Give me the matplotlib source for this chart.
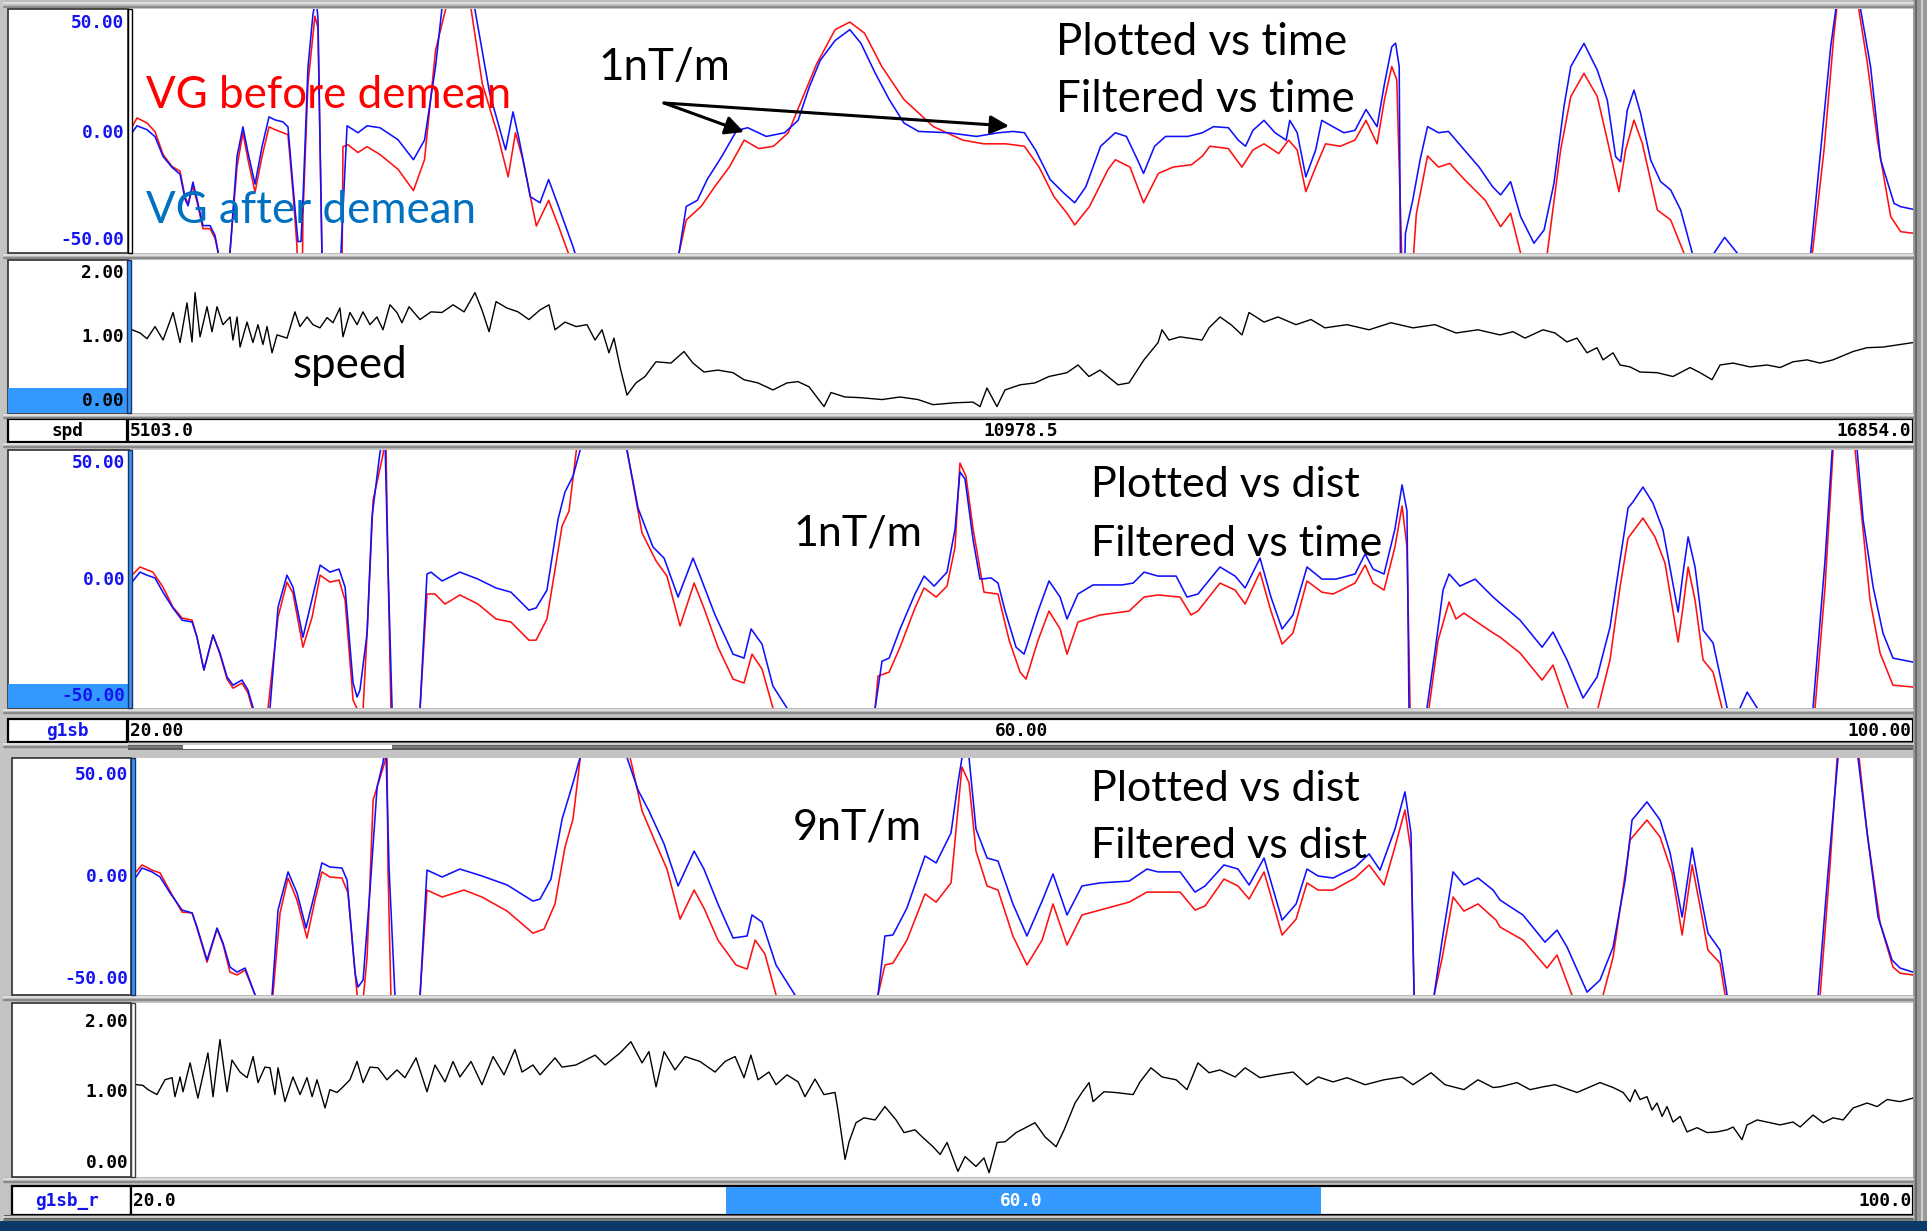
import matplotlib
matplotlib.use("Agg")
import matplotlib.pyplot as plt
from matplotlib.patches import Rectangle, FancyArrowPatch

# ---------------- data ----------------
time_ticks = ["5103.0", "10978.5", "16854.0"]
dist_ticks_a = ["20.00", "60.00", "100.00"]
dist_ticks_b = ["20.0", "60.0", "100.0"]
vg_labels = ["50.00", "0.00", "-50.00"]
spd_labels = ["2.00", "1.00", "0.00"]
channel_names = ["spd", "g1sb", "g1sb_r"]

# Panel 1 : VG vs time (1 nT/m filter)
p1_blue_t = [5103, 5136, 5202, 5255, 5308, 5367, 5420, 5453, 5473, 5505, 5532, 5571, 5618, 5651, 5670, 5685, 5740,
             5750, 5796, 5835, 5868, 5915, 5961, 6007, 6047, 6099, 6132, 6165, 6198, 6218, 6231, 6264, 6297, 6317,
             6330, 6356, 6365, 6470, 6482, 6522, 6594, 6654, 6739, 6858, 6960, 7033, 7106, 7147, 7195, 7317, 7366,
             7463, 7536, 7568, 7617, 7658, 7731, 7795, 7852, 7917, 8014, 8047, 8080, 8680, 8712, 8760, 8833, 8898,
             8996, 9093, 9166, 9288, 9409, 9498, 9571, 9644, 9742, 9839, 9912, 10009, 10099, 10196, 10293, 10488,
             10675, 10820, 10918, 10991, 11064, 11161, 11250, 11323, 11396, 11494, 11591, 11664, 11737, 11777,
             11850, 11923, 12069, 12166, 12239, 12337, 12402, 12450, 12499, 12572, 12645, 12718, 12742, 12791,
             12848, 12913, 12953, 13026, 13099, 13172, 13245, 13318, 13367, 13415, 13440, 13464, 13472, 13478,
             13498, 13505, 13553, 13602, 13651, 13724, 13789, 13894, 13991, 14081, 14133, 14199, 14265, 14353,
             14420, 14485, 14551, 14596, 14683, 14771, 14837, 14892, 14925, 14969, 15013, 15057, 15123, 15189,
             15255, 15321, 15398, 15409, 15530, 15541, 15611, 15695, 15706, 16168, 16179, 16245, 16311, 16344,
             16355, 16498, 16509, 16574, 16641, 16729, 16773, 16854]
p1_blue_v = [0.0, 3.2, 1.4, -1.8, -10.9, -15.9, -19.1, -30.5, -33.6, -22.7, -30.5, -42.7, -42.7, -47.3, -54.5, -70, -70,
             -54.5, -10.9, 2.7, -9.1, -23.6, -6.4, 7.3, 5.9, 5.0, 2.7, -24.5, -50.0, -50.0, -30.5, 30.0, 54.5, 62,
             52.7, -54.5, -70, -70, -54.5, 3.2, 0.0, 3.2, 2.3, -3.2, -12.4, -3.4, 30.5, 56.5, 72, 72, 56.5,
             18.1, 0.0, -7.9, 9.6, -3.4, -29.4, -32.2, -21.5, -33.9, -52.6, -60.5, -70, -70, -55.4, -33.9, -31.1, -21.5,
             -10.7, 1.1, 2.3, -1.7, 0.0, 5.7, 20.9, 33.3, 42.4, 47.4, 41.2, 27.1, 15.3, 4.5, 0.6, 0.0,
             -1.7, 0.0, 0.6, 0.0, -7.9, -21.5, -27.7, -32.2, -24.9, -6.2, 0.0, -1.7, -12.4, -18.7,
             -6.2, -1.7, -1.7, 0.0, 2.8, 2.3, -3.4, -6.2, 1.1, 5.7, 0.0, -3.4, 5.7, 0.0,
             -20.3, -7.9, 5.7, 2.8, 0.0, 1.1, 10.7, 2.8, 22.6, 39.5, 41.2, 30.5, -55.4, -70,
             -70, -46.3, -31.1, -12.4, 2.8, 0.0, 0.6, -7.9, -15.8, -24.9, -28.6, -22.5, -38.6, -50.8,
             -44.7, -23.3, 12.0, 30.4, 41.1, 28.8, 15.0, -11.0, -13.3, 10.4, 19.6, 8.9, -12.5, -22.5,
             -26.3, -35.5, -55.4, -70, -70, -55.4, -48.1, -55.4, -70, -70, -55.4, -7.9, 39.6, 56.4,
             72, 72, 56.4, 30.4, -12.5, -32.5, -34.0, -35.2]

p1_red_t = [5103, 5136, 5202, 5255, 5308, 5367, 5420, 5453, 5473, 5505, 5532, 5571, 5618, 5651, 5670, 5685, 5740,
            5750, 5796, 5835, 5868, 5915, 5961, 6007, 6047, 6099, 6132, 6165, 6191, 6196, 6226, 6231, 6264, 6310,
            6330, 6356, 6365, 6488, 6495, 6528, 6594, 6654, 6739, 6858, 6960, 7033, 7106, 7171, 7203, 7309, 7341,
            7414, 7512, 7585, 7633, 7682, 7771, 7852, 7917, 7982, 8006, 8680, 8712, 8760, 8858, 8947, 9044, 9142,
            9239, 9336, 9433, 9523, 9620, 9742, 9839, 9936, 10050, 10196, 10391, 10585, 10723, 10869, 10991,
            11088, 11186, 11275, 11323, 11421, 11542, 11591, 11688, 11777, 11875, 11972, 12094, 12166, 12215,
            12337, 12426, 12499, 12572, 12669, 12734, 12791, 12848, 12913, 12978, 13075, 13172, 13245, 13318,
            13367, 13415, 13448, 13480, 13486, 13545, 13577, 13651, 13724, 13797, 13894, 14032, 14133, 14199,
            14265, 14272, 14435, 14441, 14529, 14596, 14683, 14771, 14837, 14914, 14958, 15013, 15068, 15167,
            15255, 15343, 15350, 16184, 16190, 16267, 16333, 16350, 16359, 16489, 16497, 16553, 16619, 16707,
            16773, 16854]
p1_red_v = [2.7, 6.8, 4.5, 0.5, -10.0, -15.5, -17.7, -29.5, -32.7, -24.5, -31.8, -44.1, -44.1, -48.6, -54.5, -70, -70,
            -54.5, -15.5, 0.0, -12.3, -27.3, -10.9, 2.7, 1.4, 0.0, -0.9, -27.3, -51.8, -70, -70, -38.2, 22.7, 53.6,
            48.2, -54.5, -70, -70, -6.4, -5.5, -9.1, -6.4, -10.0, -16.8, -26.6, -12.4, 37.9, 56.5, 72, 72, 56.5,
            22.6, 0.0, -20.3, 0.0, -12.4, -42.9, -31.1, -42.9, -55.4, -70, -70, -55.4, -40.1, -33.9, -24.9, -15.8, -3.4,
            -7.3, -6.2, 0.0, 15.3, 31.6, 47.4, 50.9, 45.8, 30.5, 15.3, 2.8, -3.4, -5.1, -5.1, -6.2,
            -15.8, -29.4, -37.3, -42.4, -33.9, -17.0, -12.4, -15.8, -32.2, -18.7, -15.8, -14.7, -10.7, -6.2,
            -7.3, -15.8, -7.9, -5.1, -9.6, -3.4, -7.9, -27.1, -15.8, -5.1, -6.2, -3.4, 5.7, -5.1,
            15.3, 30.5, 24.3, -55.4, -70, -70, -37.3, -10.7, -15.8, -14.1, -21.5, -31.1, -43.2, -37.0,
            -55.4, -70, -70, -55.4, -7.9, 16.6, 27.3, 16.6, -3.3, -27.1, -7.9, 5.8, -4.9, -35.5,
            -40.1, -55.4, -70, -70, -55.4, -7.9, 45.7, 56.4, 72, 72, 56.4, 31.9, -3.3, -38.6,
            -45.5, -46.2]

# Panel 2 : speed vs time
p2_t = [5103, 5156, 5202, 5255, 5308, 5374, 5420, 5466, 5499, 5519, 5552, 5598, 5631, 5664, 5703, 5750, 5769, 5796,
        5816, 5862, 5901, 5934, 5967, 5994, 6027, 6060, 6126, 6178, 6211, 6258, 6297, 6343, 6390, 6429, 6475, 6495,
        6541, 6588, 6627, 6673, 6719, 6759, 6805, 6851, 6884, 6931, 7003, 7076, 7148, 7221, 7294, 7366, 7412, 7459,
        7505, 7577, 7650, 7722, 7795, 7854, 7894, 7960, 8033, 8105, 8158, 8204, 8250, 8283, 8323, 8369, 8428, 8488,
        8560, 8659, 8745, 8804, 8877, 8969, 9068, 9141, 9233, 9332, 9425, 9497, 9570, 9669, 9715, 9807, 9906,
        10052, 10170, 10289, 10388, 10533, 10652, 10698, 10744, 10810, 10863, 10962, 11061, 11153, 11272, 11345,
        11417, 11490, 11609, 11681, 11780, 11873, 11899, 11945, 12018, 12163, 12209, 12282, 12354, 12427, 12473,
        12572, 12664, 12783, 12882, 12974, 13120, 13265, 13410, 13555, 13700, 13839, 13984, 14129, 14215, 14294,
        14413, 14492, 14571, 14637, 14703, 14769, 14809, 14875, 14921, 14987, 15053, 15165, 15270, 15383, 15449,
        15528, 15581, 15667, 15779, 15891, 15977, 16063, 16155, 16240, 16326, 16458, 16550, 16656, 16768, 16854]
p2_v = [1.11, 1.06, 0.97, 1.16, 0.95, 1.38, 0.91, 1.53, 0.92, 1.69, 1.00, 1.47, 1.08, 1.47, 1.19, 1.31, 0.95, 1.31,
        0.84, 1.23, 0.91, 1.19, 0.88, 1.16, 0.75, 1.03, 0.98, 1.39, 1.16, 1.31, 1.19, 1.14, 1.30, 1.22, 1.45, 1.00,
        1.38, 1.19, 1.39, 1.19, 1.31, 1.11, 1.50, 1.38, 1.22, 1.47, 1.27, 1.39, 1.38, 1.50, 1.39, 1.69, 1.42, 1.08,
        1.55, 1.45, 1.39, 1.27, 1.42, 1.50, 1.11, 1.23, 1.16, 1.19, 0.95, 1.11, 0.75, 0.98, 0.53, 0.09, 0.28, 0.38,
        0.61, 0.59, 0.77, 0.59, 0.45, 0.48, 0.44, 0.33, 0.28, 0.17, 0.28, 0.30, 0.22, -0.09, 0.13, 0.06, 0.05,
        0.02, 0.06, 0.02, -0.06, -0.03, -0.02, -0.09, 0.20, -0.09, 0.17, 0.25, 0.28, 0.38, 0.44, 0.56,
        0.38, 0.48, 0.25, 0.28, 0.64, 0.91, 1.11, 0.95, 1.00, 0.95, 1.14, 1.31, 1.19, 1.03, 1.38,
        1.23, 1.31, 1.19, 1.27, 1.14, 1.19, 1.11, 1.22, 1.14, 1.19, 1.06, 1.11, 1.03, 1.08, 0.98,
        1.11, 1.06, 0.92, 0.98, 0.75, 0.83, 0.64, 0.75, 0.56, 0.53, 0.45, 0.44, 0.38, 0.52, 0.44,
        0.33, 0.56, 0.59, 0.53, 0.56, 0.52, 0.61, 0.64, 0.59, 0.64, 0.77, 0.83, 0.84, 0.88, 0.91]

# Panel 3 : VG vs distance (filtered vs time)
p3_blue_d = [20.0, 20.36, 20.67, 21.03, 21.39, 21.84, 22.25, 22.70, 22.92, 23.23, 23.64, 23.95, 24.27, 24.54, 24.94,
             25.21, 25.44, 25.55, 26.05, 26.20, 26.56, 26.96, 27.23, 27.68, 28.00, 28.45, 28.89, 29.30, 29.57, 29.93,
             30.11, 30.24, 30.56, 30.78, 31.14, 31.36, 31.50, 31.68, 31.75, 32.85, 32.94, 33.25, 33.43, 33.93, 34.73,
             35.54, 36.35, 37.02, 37.83, 38.15, 38.64, 39.14, 39.45, 39.81, 40.12, 40.30, 42.00, 42.24, 42.73, 43.40,
             43.90, 44.53, 45.20, 45.52, 46.19, 47.00, 47.49, 47.81, 48.30, 48.79, 49.42, 49.55, 53.25, 53.38, 53.69,
             54.01, 54.50, 55.17, 55.58, 56.03, 56.61, 56.97, 57.19, 57.42, 57.78, 58.09, 58.59, 58.90, 59.22, 59.71,
             60.07, 60.70, 61.19, 61.69, 62.00, 62.49, 63.17, 64.47, 64.97, 65.46, 66.09, 66.90, 67.39, 67.88, 68.87,
             69.55, 70.00, 70.67, 71.16, 71.66, 72.15, 72.78, 73.45, 74.08, 74.94, 75.39, 75.75, 76.24, 76.73, 77.05,
             77.27, 77.36, 77.45, 78.10, 78.17, 78.53, 78.89, 79.16, 79.65, 80.33, 81.14, 81.45, 82.35, 83.34, 83.83,
             84.46, 85.18, 85.81, 86.39, 86.84, 87.20, 87.42, 87.87, 88.32, 88.77, 89.45, 89.67, 89.90, 90.21, 90.57,
             91.02, 91.65, 91.75, 92.10, 92.23, 92.55, 93.00, 93.10, 95.40, 95.51, 96.05, 96.37, 96.50, 97.35, 97.49,
             97.76, 98.21, 98.65, 99.10, 100.0]
p3_blue_v = [-0.9, 3.4, 2.1, 0.9, -5.2, -12.0, -17.2, -18.0, -24.5, -38.6, -23.6, -31.3, -41.6, -45.1, -42.9,
             -47.2, -54.9, -70, -70, -54.9, -11.6, 2.1, -3.0, -24.5, -11.6, 6.4, 3.4, 4.7, -3.0, -44.2,
             -50.2, -47.2, -22.7, 27.0, 54.9, 62, 5.6, -54.5, -70, -70, -54.9, 2.6, 3.4, -0.4, 3.4,
             0.4, -3.4, -5.2, -12.9, -12.0, -4.3, 26.2, 37.8, 44.6, 55.4, 65, 65, 55.4, 30.9, 14.2,
             9.4, -7.3, 9.4, 1.7, -15.0, -31.8, -33.5, -21.0, -27.5, -45.5, -54.9, -70, -70, -54.9, -34.8,
             -33.5, -21.0, -6.0, 1.7, -2.6, 3.4, 21.9, 46.4, 43.3, 17.2, 0.4, 0.9, -1.3, -13.3, -28.8,
             -31.8, -13.3, -0.4, -7.3, -16.7, -6.0, -2.1, -2.1, -1.3, 3.4, 1.7, 1.7, -7.3, -6.0, 5.6,
             1.7, -3.4, 9.4, -7.3, -21.0, -15.0, 5.6, 0.4, 0.4, 2.6, 11.2, 4.7, 2.6, 21.9, 40.8,
             29.6, -54.9, -70, -70, -54.9, -30.5, -4.3, 2.6, -2.6, 0.4, -7.3, -9.9, -17.2, -28.8, -22.3,
             -34.3, -50.6, -41.6, -20.2, 8.6, 30.9, 33.5, 39.9, 33.0, 21.5, -13.7, 3.0, 18.5, 5.6, -21.5,
             -27.0, -54.9, -70, -70, -54.9, -48.1, -54.9, -70, -70, -54.9, 8.6, 55.8, 65, 65, 55.8,
             25.8, -3.0, -22.7, -33.5, -35.2]

p3_red_d = [20.0, 20.36, 20.94, 21.39, 21.84, 22.25, 22.70, 22.92, 23.23, 23.64, 23.95, 24.27, 24.54, 24.94, 25.21,
            25.40, 25.50, 26.00, 26.11, 26.56, 26.96, 27.23, 27.68, 28.09, 28.45, 28.89, 29.30, 29.57, 29.93, 30.15,
            30.20, 30.30, 30.56, 30.83, 31.27, 31.40, 31.50, 31.63, 31.70, 32.85, 32.94, 33.25, 33.61, 34.06, 34.73,
            35.54, 36.35, 37.02, 37.83, 38.15, 38.64, 39.32, 39.63, 39.94, 40.10, 42.10, 42.24, 42.91, 43.54, 44.03,
            44.62, 45.25, 45.69, 46.32, 47.00, 47.49, 47.85, 48.30, 48.79, 48.90, 53.30, 53.38, 53.51, 54.01, 54.50,
            55.17, 55.58, 56.12, 56.61, 56.97, 57.19, 57.46, 57.78, 58.27, 58.90, 59.40, 59.89, 60.16, 60.70, 61.19,
            61.69, 62.00, 62.49, 63.48, 64.79, 65.46, 66.09, 67.08, 67.57, 67.88, 68.87, 69.55, 70.00, 70.67, 71.16,
            71.66, 72.15, 72.78, 73.45, 73.95, 74.94, 75.39, 75.75, 76.24, 76.73, 77.05, 77.27, 77.41, 77.50, 78.20,
            78.26, 78.67, 79.16, 79.47, 79.83, 81.14, 81.45, 82.35, 83.34, 83.83, 84.50, 84.60, 85.75, 85.85, 86.39,
            86.84, 87.20, 87.87, 88.41, 88.86, 89.45, 89.67, 89.90, 90.21, 90.57, 91.02, 91.42, 91.50, 95.50, 95.60,
            96.05, 96.41, 96.50, 97.30, 97.40, 97.71, 98.07, 98.52, 99.10, 100.0]
p3_red_v = [2.1, 5.6, 3.4, -3.0, -11.6, -16.3, -17.2, -24.5, -38.6, -23.6, -31.8, -42.5, -46.4, -44.2, -48.5,
            -54.9, -70, -70, -54.9, -15.9, -0.9, -5.6, -28.8, -15.9, 2.1, -0.9, 0.0, -8.6, -51.5, -56,
            -70, -70, -22.7, 34.3, 53.6, 62, 5.6, -54.9, -70, -70, -54.9, -6.0, -6.0, -10.3, -6.4,
            -10.3, -16.7, -18.0, -25.8, -25.8, -16.7, 23.2, 29.6, 54.1, 65, 65, 55.4, 20.2, 8.2, 1.7,
            -19.7, -1.3, -12.0, -28.8, -42.5, -44.2, -31.8, -38.2, -54.9, -70, -70, -54.9, -41.2, -39.5, -28.8,
            -12.0, -3.4, -7.3, -2.6, 14.2, 50.2, 44.6, 21.9, -5.2, -6.0, -25.8, -39.5, -42.5, -25.8, -13.3,
            -21.0, -31.8, -18.0, -15.0, -13.3, -7.3, -6.4, -7.3, -15.0, -13.3, -1.3, -4.3, -10.3, 3.4, -13.3,
            -27.5, -22.7, -0.4, -5.2, -6.0, -1.3, 6.4, -1.3, -4.3, 14.2, 31.8, 14.2, -54.9, -70, -70,
            -54.9, -25.8, -9.4, -16.7, -14.2, -22.7, -24.5, -31.3, -42.9, -36.5, -54.9, -70, -70, -54.9, -34.3,
            -3.0, 18.0, 26.6, 18.5, 7.3, -26.6, -11.6, 5.6, -8.6, -34.3, -39.5, -54.9, -70, -70, -54.9,
            -3.0, 55.8, 65, 65, 55.8, 25.8, -8.6, -31.3, -45.1, -45.9]

# Panel 4 : VG vs distance (filtered vs distance, 9 nT/m)
p4_blue_d = [20.0, 20.18, 20.45, 20.90, 21.26, 21.71, 22.25, 22.70, 22.92, 23.37, 23.82, 24.09, 24.40, 24.72, 25.08,
             25.53, 25.60, 26.20, 26.29, 26.56, 27.01, 27.41, 27.82, 28.22, 28.53, 28.89, 29.43, 29.66, 30.02, 30.15,
             30.38, 30.69, 31.01, 31.27, 31.40, 31.55, 31.81, 31.90, 32.85, 32.94, 33.25, 33.93, 34.73, 35.72, 36.85,
             38.01, 38.33, 38.82, 39.32, 39.81, 40.12, 40.30, 42.00, 42.24, 42.73, 43.22, 43.90, 44.53, 45.25, 45.69,
             46.32, 47.00, 47.63, 47.85, 48.30, 48.93, 49.78, 49.90, 53.40, 53.51, 53.82, 54.18, 54.81, 55.62, 56.12,
             56.79, 57.10, 57.28, 57.40, 57.50, 57.60, 57.91, 58.41, 58.90, 59.57, 60.20, 60.88, 61.37, 62.00, 62.67,
             63.48, 64.79, 65.59, 66.09, 67.08, 67.75, 68.20, 69.05, 69.68, 70.18, 70.85, 71.66, 72.29, 72.78, 73.28,
             73.95, 74.94, 75.57, 76.06, 76.73, 77.18, 77.45, 77.59, 77.70, 78.40, 78.49, 78.85, 79.34, 79.83, 80.46,
             81.14, 81.45, 82.48, 83.47, 84.01, 84.46, 85.36, 85.94, 86.53, 87.07, 87.38, 88.05, 88.64, 89.09, 89.63,
             90.08, 90.44, 90.79, 91.33, 91.65, 91.75, 95.60, 95.74, 96.18, 96.63, 96.75, 97.40, 97.53, 97.94, 98.43,
             99.06, 99.42, 100.0]
p4_blue_v = [0.0, 0.0, 4.4, 2.5, 0.0, -7.8, -16.2, -17.6, -24.5, -40.7, -25.0, -32.4, -44.1, -46.6, -44.6,
             -57.8, -70, -70, -57.8, -16.2, 2.5, -7.8, -25.0, -7.4, 6.9, 4.9, 4.4, -1.5, -47.1, -53.9,
             -50.5, -6.4, 44.1, 55.9, 65, 3.4, -57.8, -70, -70, -57.8, 3.4, 0.0, 3.9, 0.5, -3.9,
             -11.8, -10.8, -1.0, 28.4, 46.1, 58.3, 65, 65, 58.3, 42.6, 32.4, 16.2, -4.4, 12.7, 3.9,
             -13.2, -29.9, -28.9, -18.6, -22.1, -43.1, -57.8, -70, -70, -57.8, -28.9, -28.4, -15.2, 10.3, 6.9,
             21.6, 46.1, 58.3, 65, 65, 58.3, 23.5, 9.3, 7.8, -13.2, -28.9, -11.8, 1.5, -18.6, -4.4,
             -2.9, -2.0, 3.9, 2.5, 2.5, -7.4, -4.4, 5.9, 3.9, -3.9, 9.3, -21.1, -13.2, 3.9, 0.5,
             -0.5, 4.9, 11.3, 3.4, 23.5, 41.7, 21.6, -57.8, -70, -70, -57.8, -30.9, 2.5, -3.9, -0.5,
             -6.4, -11.3, -18.6, -31.9, -26.0, -34.3, -56.4, -50.5, -34.3, -1.5, 27.9, 36.8, 27.9, 11.8, -19.6,
             14.2, -7.8, -27.5, -35.8, -57.8, -70, -70, -57.8, 2.0, 58.3, 65, 65, 58.3, 21.6, -19.6,
             -40.7, -44.6, -46.6]

p4_red_d = [20.0, 20.18, 20.45, 20.90, 21.26, 21.71, 22.25, 22.70, 22.92, 23.37, 23.82, 24.09, 24.40, 24.72, 25.08,
            25.53, 25.60, 26.25, 26.33, 26.65, 27.01, 27.41, 27.86, 28.22, 28.53, 28.89, 29.43, 29.70, 30.11, 30.20,
            30.30, 30.56, 30.83, 31.36, 31.45, 31.50, 31.63, 31.70, 32.85, 32.94, 33.25, 33.93, 34.91, 35.72, 36.85,
            38.01, 38.51, 39.00, 39.45, 39.81, 40.12, 40.20, 42.20, 42.41, 42.91, 43.54, 44.03, 44.62, 45.25, 45.69,
            46.32, 47.13, 47.63, 47.99, 48.43, 48.93, 49.00, 53.40, 53.51, 53.82, 54.18, 54.81, 55.62, 56.12, 56.79,
            57.28, 57.60, 57.91, 58.41, 58.90, 59.57, 60.20, 60.88, 61.37, 62.00, 62.67, 63.48, 64.79, 65.59, 67.08,
            67.75, 68.20, 69.05, 69.68, 70.18, 70.85, 71.66, 72.29, 72.78, 73.28, 73.95, 74.94, 75.57, 76.24, 76.73,
            77.18, 77.45, 77.59, 77.70, 78.40, 78.49, 78.85, 79.34, 79.83, 80.46, 81.27, 81.45, 82.48, 83.56, 84.01,
            84.68, 84.80, 86.00, 86.08, 86.53, 87.29, 88.05, 88.64, 89.18, 89.63, 90.08, 90.44, 90.79, 91.33, 91.56,
            91.65, 95.70, 95.83, 96.27, 96.59, 96.70, 97.45, 97.58, 97.94, 98.52, 99.10, 99.42, 100.0]
p4_red_v = [2.5, 2.5, 5.9, 3.4, 2.0, -7.0, -17.2, -17.6, -25.0, -41.7, -25.5, -33.0, -46.6, -48.0, -45.6,
            -57.8, -70, -70, -57.8, -17.6, -0.5, -11.3, -29.9, -11.3, 2.5, 0.0, -0.5, -7.8, -57.8, -70,
            -70, -39.2, 37.7, 56.4, 65, 3.4, -57.8, -70, -70, -57.8, -6.4, -9.8, -6.4, -9.8, -16.7,
            -27.5, -25.5, -13.2, 14.7, 28.4, 56.9, 65, 65, 56.9, 32.4, 16.2, 3.9, -20.6, -6.4, -15.2,
            -30.9, -43.1, -45.1, -30.9, -37.7, -57.8, -70, -70, -57.8, -43.1, -42.2, -30.9, -8.3, -12.3, -2.9,
            53.9, 46.1, 12.7, -4.4, -6.4, -28.9, -43.1, -30.9, -13.2, -33.3, -18.6, -16.2, -12.3, -7.4, -7.4,
            -16.2, -14.2, -1.0, -4.4, -10.8, 2.5, -28.4, -20.6, -2.9, -6.4, -6.4, -0.5, 5.9, -3.9, 14.7,
            32.8, 12.7, -57.8, -70, -70, -57.8, -39.7, -9.8, -16.7, -13.2, -21.1, -24.5, -30.9, -44.6, -38.2,
            -57.8, -70, -70, -57.8, -39.2, 18.1, 27.9, 19.6, 2.0, -28.4, 5.9, -14.7, -35.8, -42.2, -57.8,
            -70, -70, -57.8, 4.9, 58.3, 65, 65, 58.3, 21.6, -22.5, -44.1, -47.1, -48.0]

# Panel 5 : speed vs distance
p5_d = [20.0, 20.49, 20.72, 21.12, 21.48, 21.80, 21.93, 22.16, 22.29, 22.61, 22.96, 23.41, 23.64, 23.95, 24.27,
        24.49, 24.85, 25.17, 25.44, 25.66, 25.97, 26.20, 26.42, 26.56, 26.87, 27.23, 27.55, 27.86, 28.09, 28.31,
        28.67, 28.89, 29.21, 29.48, 29.79, 30.11, 30.38, 30.69, 31.05, 31.45, 31.90, 32.26, 32.76, 33.25, 33.61,
        34.06, 34.42, 34.73, 35.23, 35.72, 36.22, 36.71, 37.20, 37.52, 38.01, 38.33, 39.00, 39.32, 39.94, 40.80,
        41.25, 41.92, 42.41, 42.91, 43.22, 43.54, 43.90, 44.39, 44.84, 45.51, 46.19, 46.64, 47.09, 47.49, 47.80,
        48.12, 48.61, 48.93, 49.42, 49.92, 50.23, 50.68, 51.08, 51.58, 51.71, 52.03, 52.21, 52.52, 52.88, 53.38,
        53.82, 54.32, 54.68, 55.17, 55.49, 55.98, 56.30, 56.61, 57.10, 57.42, 57.91, 58.27, 58.50, 58.86, 59.22,
        59.71, 60.20, 60.56, 61.01, 61.51, 61.87, 62.36, 62.67, 62.99, 63.17, 63.66, 64.16, 64.97, 65.28, 65.77,
        66.27, 66.90, 67.39, 67.88, 68.38, 68.87, 69.55, 70.00, 70.67, 71.34, 72.15, 72.78, 73.28, 73.95, 74.58,
        75.39, 76.24, 77.05, 77.54, 78.35, 78.98, 79.83, 80.46, 81.14, 81.45, 82.21, 82.80, 83.38, 83.92, 84.91,
        85.94, 86.53, 86.98, 87.29, 87.51, 87.74, 88.05, 88.28, 88.50, 88.73, 88.95, 89.22, 89.54, 89.85, 90.30,
        90.75, 91.20, 91.65, 91.92, 92.32, 92.55, 93.00, 93.58, 94.03, 94.61, 94.93, 95.51, 95.96, 96.41, 96.86,
        97.31, 97.94, 98.39, 98.84, 99.42, 100.0]
p5_v = [1.11, 1.09, 1.03, 0.96, 1.17, 1.20, 0.93, 1.21, 1.00, 1.41, 0.91, 1.55, 0.93, 1.74, 1.00,
        1.45, 1.28, 1.20, 1.50, 1.13, 1.35, 1.34, 0.96, 1.34, 0.86, 1.21, 0.96, 1.20, 0.93, 1.17,
        0.77, 1.03, 0.99, 1.07, 1.17, 1.43, 1.13, 1.35, 1.34, 1.17, 1.31, 1.20, 1.48, 1.00, 1.38,
        1.14, 1.43, 1.21, 1.43, 1.10, 1.50, 1.24, 1.60, 1.28, 1.38, 1.24, 1.48, 1.35, 1.38, 1.52,
        1.38, 1.55, 1.71, 1.41, 1.57, 1.07, 1.57, 1.31, 1.50, 1.43, 1.28, 1.43, 1.50, 1.20, 1.52,
        1.17, 1.28, 1.10, 1.24, 1.14, 0.93, 1.18, 0.96, 0.99, 0.74, 0.04, 0.29, 0.56, 0.63, 0.60,
        0.79, 0.60, 0.42, 0.46, 0.36, 0.22, 0.11, 0.28, -0.13, 0.08, -0.06, 0.06, -0.15, 0.28, 0.29,
        0.42, 0.50, 0.56, 0.36, 0.22, 0.46, 0.84, 0.99, 1.13, 0.86, 1.00, 0.99, 0.96, 1.14, 1.34,
        1.21, 1.17, 1.03, 1.41, 1.27, 1.31, 1.21, 1.34, 1.20, 1.24, 1.28, 1.10, 1.21, 1.14, 1.20,
        1.10, 1.17, 1.21, 1.10, 1.27, 1.10, 1.03, 1.17, 1.06, 1.07, 1.13, 1.03, 1.07, 1.10, 0.99,
        1.13, 1.06, 0.99, 0.86, 1.03, 0.89, 0.93, 0.74, 0.84, 0.65, 0.79, 0.57, 0.65, 0.43, 0.49,
        0.42, 0.43, 0.46, 0.50, 0.32, 0.53, 0.60, 0.56, 0.53, 0.57, 0.50, 0.67, 0.56, 0.63, 0.60,
        0.77, 0.84, 0.79, 0.89, 0.86, 0.91]

# ---------------- layout ----------------
W, H = 1927, 1231
fig = plt.figure(figsize=(W / 100, H / 100), dpi=100)
fig.patch.set_facecolor("#c4c4c4")

def rect(x0, y0, x1, y1):
    return [x0 / W, 1 - y1 / H, (x1 - x0) / W, (y1 - y0) / H]

bg = fig.add_axes([0, 0, 1, 1], zorder=0)
bg.set_xlim(0, W); bg.set_ylim(H, 0); bg.axis("off")

top = fig.add_axes([0, 0, 1, 1], zorder=20)
top.set_xlim(0, W); top.set_ylim(H, 0); top.axis("off"); top.patch.set_alpha(0)

BLUE_HL = "#3399ff"
MONO = "DejaVu Sans Mono"
LBL_BLUE = "#1414f0"

def box(ax, x0, y0, x1, y1, fc="white", ec="#303030", lw=1.2, z=1):
    ax.add_patch(Rectangle((x0, y0), x1 - x0, y1 - y0, facecolor=fc, edgecolor=ec, lw=lw, zorder=z))

# bevel bars between panels
for yy in [253, 413, 442, 708, 742, 995, 1177, 1215]:
    box(bg, 4, yy, 1913, yy + 7, fc="#b8b8b8", ec="none", lw=0)
    bg.plot([4, 1913], [yy + 2, yy + 2], color="#e6e6e6", lw=1.2)
    bg.plot([4, 1913], [yy + 5, yy + 5], color="#808080", lw=1.2)
box(bg, 4, 0, 1913, 8, fc="#bcbcbc", ec="none", lw=0)
bg.plot([4, 1913], [3, 3], color="#e6e6e6", lw=1.2)
bg.plot([4, 1913], [7, 7], color="#808080", lw=1.2)

# label areas
box(bg, 8, 9, 128, 253)
box(bg, 8, 260, 128, 413)
box(bg, 8, 388, 127, 413, fc=BLUE_HL, ec="none", lw=0, z=2)
box(bg, 8, 450, 129, 708)
box(bg, 8, 684, 128, 708, fc=BLUE_HL, ec="none", lw=0, z=2)
box(bg, 12, 758, 131, 995)
box(bg, 12, 1003, 131, 1177)

# axis bars
box(bg, 8, 419, 127, 442, ec="black", lw=1.6)
box(bg, 128, 419, 1913, 442, ec="black", lw=1.6)
box(bg, 8, 719, 127, 742, ec="black", lw=1.6)
box(bg, 128, 719, 1913, 742, ec="black", lw=1.6)
box(bg, 128, 742, 1913, 750, fc="#5c5c5c", ec="none", lw=0)
box(bg, 183, 745, 392, 749, fc="white", ec="none", lw=0, z=2)
box(bg, 12, 1186, 131, 1215, ec="black", lw=1.6)
box(bg, 131, 1186, 1913, 1215, ec="black", lw=1.6)
box(bg, 726, 1187, 1321, 1214, fc=BLUE_HL, ec="none", lw=0, z=2)
box(bg, 4, 1215, 1913, 1221, fc="#5a5a5a", ec="none", lw=0)
box(bg, 0, 1221, W, H, fc="#0b3a68", ec="none", lw=0, z=3)
box(bg, 1913, 0, W, 1221, fc="#9a9a9a", ec="none", lw=0)
bg.plot([1916, 1916], [0, 1221], color="#6a6a6a", lw=1.5)
bg.plot([1922, 1922], [0, 1221], color="#d0d0d0", lw=1.5)

def panel(x0, y0, x1, y1, xlim, ylim):
    ax = fig.add_axes(rect(x0, y0, x1, y1), zorder=5)
    ax.set_xlim(*xlim); ax.set_ylim(*ylim)
    ax.set_xticks([]); ax.set_yticks([])
    for s in ax.spines.values():
        s.set_visible(False)
    ax.set_facecolor("white")
    return ax

TLIM = (5103.0, 16854.0)
DLIM = (20.0, 100.0)
LW = 1.15

ax1 = panel(132, 9, 1913, 253, TLIM, (-55.3, 56.9))
ax1.plot(p1_red_t, p1_red_v, color="#ff1010", lw=LW)
ax1.plot(p1_blue_t, p1_blue_v, color="#1010ff", lw=LW)

ax2 = panel(132, 260, 1913, 413, TLIM, (-0.19, 2.20))
ax2.plot(p2_t, p2_v, color="black", lw=1.0)

ax3 = panel(132, 450, 1913, 708, DLIM, (-54.9, 55.8))
ax3.plot(p3_red_d, p3_red_v, color="#ff1010", lw=LW)
ax3.plot(p3_blue_d, p3_blue_v, color="#1010ff", lw=LW)

ax4 = panel(132, 758, 1913, 995, DLIM, (-57.8, 58.3))
ax4.plot(p4_red_d, p4_red_v, color="#ff1010", lw=LW)
ax4.plot(p4_blue_d, p4_blue_v, color="#1010ff", lw=LW)

ax5 = panel(132, 1003, 1913, 1177, DLIM, (-0.21, 2.26))
ax5.plot(p5_d, p5_v, color="black", lw=1.0)

# left vertical axis strips
box(top, 128, 9, 132, 253, fc="white", ec="black", lw=1.0)
box(top, 127, 260, 131, 413, fc=BLUE_HL, ec="#203060", lw=1.0)
box(top, 128, 450, 132, 708, fc=BLUE_HL, ec="#203060", lw=1.0)
box(top, 131, 758, 135, 995, fc=BLUE_HL, ec="#203060", lw=1.0)
box(top, 131, 1003, 135, 1177, fc="white", ec="#404040", lw=1.0)

# y labels
def ylabels(labels, ys, xr, color):
    for lab, y in zip(labels, ys):
        top.text(xr, y, lab, ha="right", va="center", family=MONO, fontweight="bold",
                 fontsize=12.8, color=color)

ylabels(vg_labels, [23, 133, 240], 124, LBL_BLUE)
ylabels(spd_labels, [273, 337, 401], 124, "black")
ylabels(vg_labels, [463, 580, 696], 125, LBL_BLUE)
ylabels(vg_labels, [775, 877, 979], 128, LBL_BLUE)
ylabels(spd_labels, [1022, 1092, 1163], 128, "black")

# axis bar texts
def bar_texts(name, ticks, yc, name_color, mid_color="black", xl=130):
    top.text(67, yc, name, ha="center", va="center", family=MONO, fontweight="bold",
             fontsize=12.8, color=name_color)
    top.text(xl, yc, ticks[0], ha="left", va="center", family=MONO, fontweight="bold", fontsize=12.8)
    top.text(1021, yc, ticks[1], ha="center", va="center", family=MONO, fontweight="bold",
             fontsize=12.8, color=mid_color)
    top.text(1911, yc, ticks[2], ha="right", va="center", family=MONO, fontweight="bold", fontsize=12.8)

bar_texts(channel_names[0], time_ticks, 431, "black")
bar_texts(channel_names[1], dist_ticks_a, 731, LBL_BLUE)
bar_texts(channel_names[2], dist_ticks_b, 1201, LBL_BLUE, mid_color="white", xl=133)

# annotations
ANN = "Lato"
def ann(x, yb, s, color="black", size=31.6):
    top.text(x, yb, s, ha="left", va="baseline", family=ANN, fontsize=size, color=color)

ann(146, 108, "VG before demean", color="#ff0000")
ann(146, 223, "VG after demean", color="#0070c0")
ann(598, 80, "1nT/m")
ann(1056, 55, "Plotted vs time")
ann(1056, 112, "Filtered vs time")
ann(293, 378, "speed")
ann(1091, 497, "Plotted vs dist", size=31)
ann(1091, 556, "Filtered vs time", size=31)
ann(793, 546, "1nT/m", size=31)
ann(1091, 801, "Plotted vs dist", size=31)
ann(1091, 858, "Filtered vs dist", size=31)
ann(793, 840, "9nT/m", size=31)

for (hx, hy) in [(744, 132), (1009, 126)]:
    top.add_patch(FancyArrowPatch((664, 103), (hx, hy), arrowstyle="-|>", mutation_scale=28,
                                  lw=2.2, color="black", shrinkA=0, shrinkB=0))

fig.savefig("out.png", dpi=100, facecolor=fig.get_facecolor())
